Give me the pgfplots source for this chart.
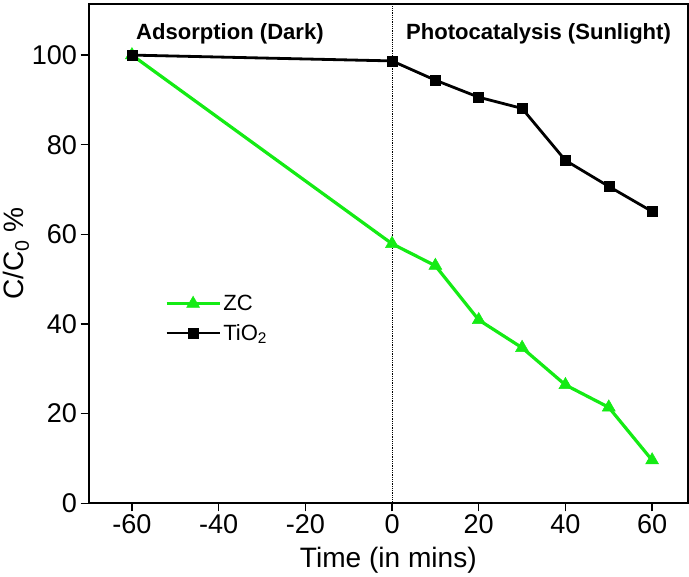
\documentclass[border=0pt]{standalone}
\usepackage{fontspec}
\setmainfont{Liberation Sans}
\usepackage{pgfplots}
\pgfplotsset{compat=1.18}
\definecolor{zcgreen}{RGB}{20,235,20}
\begin{document}
\begin{tikzpicture}
\begin{axis}[
    scale only axis,
    width=598pt, height=498pt,
    xmin=-70, xmax=68.3,
    ymin=0, ymax=111.4,
    xtick={-60,-40,...,60},
    ytick={0,20,...,100},
    tick align=outside,
    xtick pos=bottom, ytick pos=left,
    major tick length=8pt,
    axis line style={line width=1.8pt},
    every tick/.style={line width=1.5pt, black},
    tick label style={font=\fontsize{27}{30}\selectfont},
    /pgf/number format/assume math mode=true,
    xlabel={Time (in mins)},
    ylabel={C/C\textsubscript{0} \%},
    label style={font=\fontsize{28}{32}\selectfont},
    xlabel style={yshift=-6pt},
    ylabel style={yshift=-4pt},
    legend style={draw=none, fill=none, at={(0.122,0.425)}, anchor=north west,
        font=\fontsize{22}{26}\selectfont, row sep=8pt},
    legend cell align=left,
    legend image code/.code={
        \draw[#1] (0pt,0pt) -- (53pt,0pt);
        \draw[#1, only marks] plot coordinates {(26.5pt,0pt)};
    },
]
\addplot[forget plot, black, densely dotted, line width=0.8pt] coordinates {(0,0) (0,111.4)};
\addplot[zcgreen, line width=3.2pt, mark=triangle*, mark size=7.5pt,
    mark options={solid, line width=0.5pt}] coordinates {
    (-60,100) (0,57.9) (10,53.0) (20,40.9) (30,34.7) (40,26.4) (50,21.4) (60,9.6)
};
\addlegendentry{ZC}
\addplot[black, line width=2.8pt, mark=square*, mark size=5pt,
    mark options={solid, line width=0.5pt}] coordinates {
    (-60,100) (0,98.7) (10,94.4) (20,90.6) (30,88.1) (40,76.5) (50,70.7) (60,65.1)
};
\addlegendentry{TiO\textsubscript{2}}
\node[font=\bfseries\fontsize{22}{26}\selectfont] at (axis cs:-37.4,104.8) {Adsorption (Dark)};
\node[font=\bfseries\fontsize{22}{26}\selectfont] at (axis cs:33.8,104.8) {Photocatalysis (Sunlight)};
\end{axis}
\path ([yshift=4pt]current axis.north) -- +(0,0);
\end{tikzpicture}
\end{document}
